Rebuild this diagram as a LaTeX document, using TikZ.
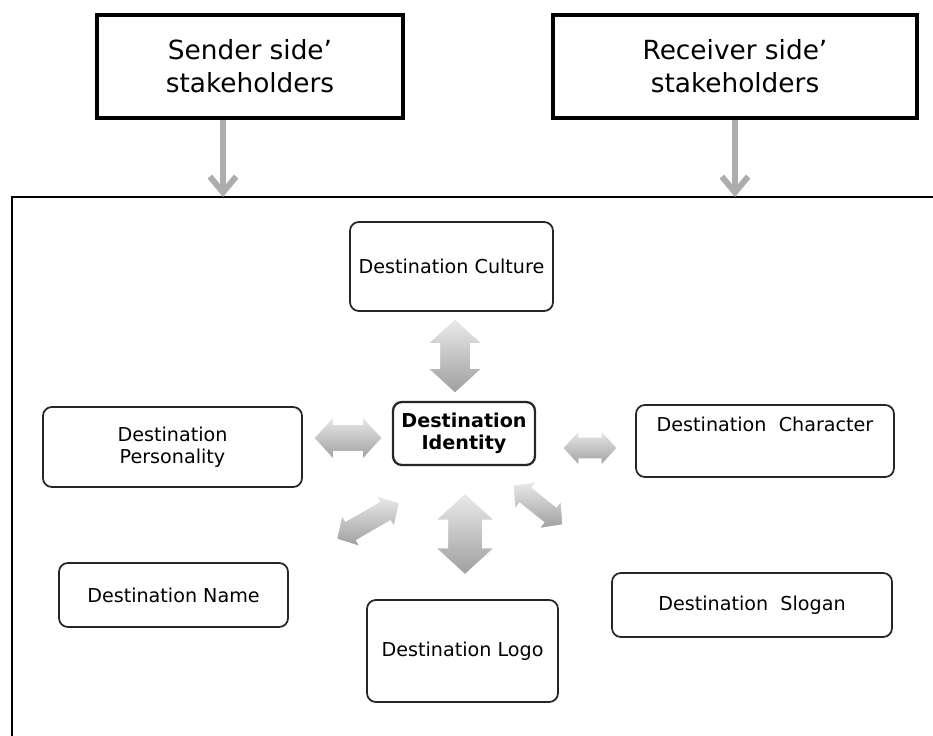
\documentclass[tikz,border=0pt]{standalone}
\usepackage{fontspec}
\setmainfont{DejaVu Sans}
\usetikzlibrary{shapes.arrows,shadows,arrows.meta}

\tikzset{
  stakebox/.style={draw, line width=2pt, fill=white, minimum height=2.06cm,
    align=center, font=\fontsize{15}{18.7}\selectfont,
    drop shadow={shadow xshift=1.3pt,shadow yshift=-1.3pt,fill=black!75,opacity=1}},
  dbox/.style={draw=black!85, line width=1pt, rounded corners=5pt, fill=white,
    align=center, font=\fontsize{10.9}{12.7}\selectfont},
  feed/.style={draw=black!32, line width=3.4pt,
    -{Straight Barb[length=9pt,width=15pt]}},
  link/.style={double arrow, shade, top color=black!8, bottom color=black!38,
    draw=white, line width=.8pt, double arrow tip angle=95},
}

\begin{document}
\begin{tikzpicture}[x=0.02cm,y=-0.02cm]
\useasboundingbox (0,0) rectangle (933,736);
% frame
\coordinate (ftop) at (12,197);
\draw[line width=1pt] (12,736)--(ftop)--(933,197);
% stakeholders
\node[stakebox, minimum width=6.12cm] (sender) at (250,66.5) {Sender side’\\stakeholders};
\node[stakebox, minimum width=7.28cm] (receiver) at (735,66.5) {Receiver side’\\stakeholders};
\draw[feed] ([xshift=-.54cm]sender.south)--([xshift=-.54cm]sender.south |- ftop);
\draw[feed] (receiver.south)--(receiver.south |- ftop);
% elements
\node[dbox, minimum width=4.06cm, minimum height=1.78cm] (culture) at (451.5,266.5) {Destination Culture};
\node[dbox, line width=1.3pt, minimum width=2.84cm, minimum height=1.26cm,
  font=\fontsize{10.9}{12.5}\selectfont\bfseries] (identity) at (464,433.5) {Destination\\Identity};
\node[dbox, minimum width=5.18cm, minimum height=1.6cm] (personality) at (172.5,447) {Destination\\Personality};
\node[dbox, minimum width=5.16cm, minimum height=1.44cm,
  label={[anchor=north,inner sep=0pt,yshift=-7pt,font=\fontsize{10.9}{12.7}\selectfont]north:Destination~~Character}] (character) at (765,441) {};
\node[dbox, minimum width=4.58cm, minimum height=1.28cm] (name) at (173.5,595) {Destination Name};
\node[dbox, minimum width=3.82cm, minimum height=2.04cm] (logo) at (462.5,651) {Destination Logo};
\node[dbox, minimum width=5.6cm, minimum height=1.28cm] (slogan) at (752,605) {Destination~~Slogan};
% block arrows
\node[link, rotate=90, minimum height=1.5cm, inner sep=.3cm, double arrow head extend=.24cm] (cu) at (455,356) {};
\node[link, minimum height=1.38cm, inner sep=.26cm, double arrow head extend=.17cm] (pe) at (348,438) {};
\node[link, minimum height=1.1cm, inner sep=.21cm, double arrow head extend=.14cm] (ch) at (590,448) {};
\node[link, rotate=30, minimum height=1.46cm, inner sep=.21cm, double arrow head extend=.15cm] (na) at (368,521) {};
\node[link, rotate=90, minimum height=1.64cm, inner sep=.34cm, double arrow head extend=.24cm] (lo) at (465,534) {};
\node[link, rotate=-38.7, minimum height=1.28cm, inner sep=.19cm, double arrow head extend=.16cm] (sl) at (538,505) {};
\end{tikzpicture}
\end{document}
